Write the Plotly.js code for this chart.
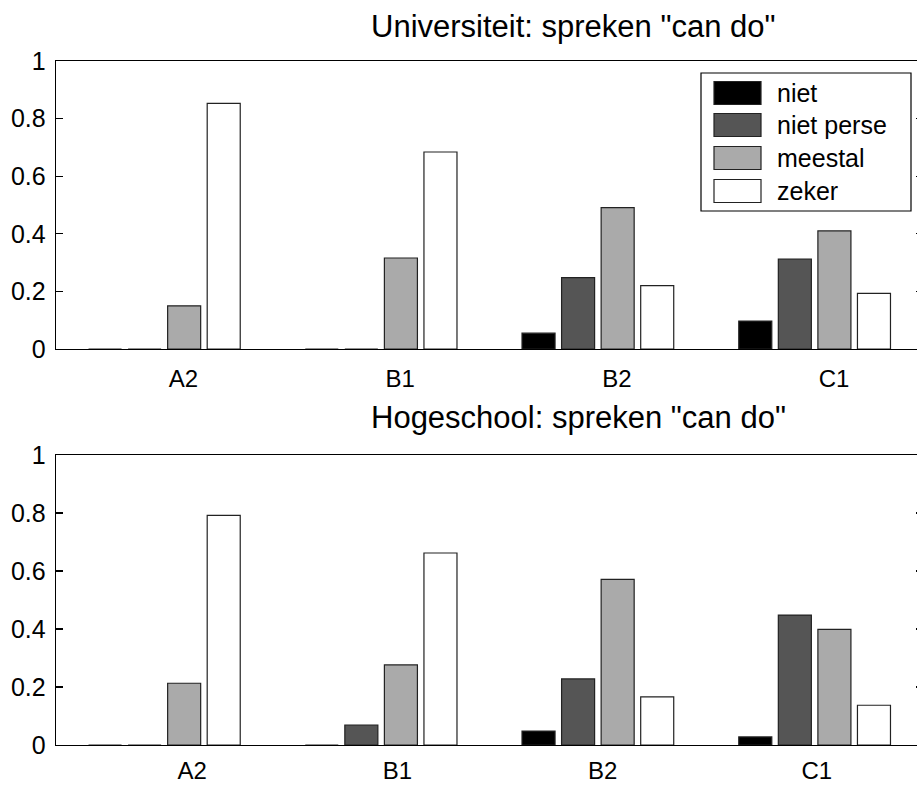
<!DOCTYPE html>
<html><head><meta charset="utf-8">
<script src="https://cdn.plot.ly/plotly-3.0.1.min.js"></script>
<style>html,body{margin:0;padding:0;overflow:hidden;background:#fff}#chart{width:930px;height:785px}</style>
</head><body><div id="chart"></div>
<script>
const categories = ["A2", "B1", "B2", "C1"];
const seriesNames = ["niet", "niet perse", "meestal", "zeker"];
const uniNiet = [0, 0, 0.055, 0.097];
const uniNietPerse = [0, 0, 0.248, 0.312];
const uniMeestal = [0.15, 0.316, 0.491, 0.41];
const uniZeker = [0.853, 0.684, 0.22, 0.193];
const hsNiet = [0, 0, 0.048, 0.028];
const hsNietPerse = [0, 0.069, 0.228, 0.448];
const hsMeestal = [0.213, 0.276, 0.571, 0.399];
const hsZeker = [0.792, 0.662, 0.166, 0.137];
const yTickVals = [0, 0.2, 0.4, 0.6, 0.8, 1];
const yTickText = ["0", "0.2", "0.4", "0.6", "0.8", "1"];
const titleUni = 'Universiteit: spreken "can do"';
const titleHs = 'Hogeschool: spreken "can do"';

// styling / layout
const W = 930, H = 785;
const colors = ["#000000", "#555555", "#aaaaaa", "#ffffff"];
const FONT = "Liberation Sans, Arial, Helvetica, sans-serif";
const px = v => v / W;
const py = v => 1 - v / H;
const xIdx = categories.map((c, i) => i + 1);
// tick label positions (slightly offset to the right, as in the original)
const uniLabelPos = [1.088, 2.088, 3.088, 4.09];
const hsLabelPos = [1.128, 2.075, 3.022, 4.01];

const uniSeries = [uniNiet, uniNietPerse, uniMeestal, uniZeker];
const hsSeries = [hsNiet, hsNietPerse, hsMeestal, hsZeker];

const traces = [];
uniSeries.forEach((vals, i) => traces.push({
  type: "bar", x: xIdx, y: vals, name: seriesNames[i], xaxis: "x", yaxis: "y",
  marker: {color: colors[i], line: {color: "#222", width: 1.2}}, showlegend: false, hoverinfo: "y"
}));
hsSeries.forEach((vals, i) => traces.push({
  type: "bar", x: xIdx, y: vals, name: seriesNames[i], xaxis: "x2", yaxis: "y2",
  marker: {color: colors[i], line: {color: "#222", width: 1.2}}, showlegend: false, hoverinfo: "y"
}));

const xDom = [px(56), px(923)];
function xAx(anchor, labelPos, standoff) {
  return {
    domain: xDom, anchor: anchor, range: [0.5, 4.5], tickmode: "array",
    tickvals: labelPos, ticktext: categories, ticks: "", showline: true, mirror: true,
    linecolor: "#000", linewidth: 1.3, showgrid: false, zeroline: false,
    tickfont: {family: FONT, size: 24, color: "#000"}, ticklabelstandoff: standoff, automargin: false
  };
}
function yAx(anchor, dom) {
  return {
    domain: dom, anchor: anchor, range: [0, 1], tickmode: "array", tickvals: yTickVals, ticktext: yTickText,
    ticks: "inside", ticklen: 7, tickcolor: "#000", tickwidth: 1.2, showline: true, mirror: "ticks",
    linecolor: "#000", linewidth: 1.3, showgrid: false, zeroline: false,
    tickfont: {family: FONT, size: 25, color: "#000"}, ticklabelstandoff: 4, automargin: false
  };
}

const shapes = [];
const annotations = [];
// subplot titles
annotations.push({xref: "paper", yref: "paper", x: px(369), y: py(27), xanchor: "left", yanchor: "middle",
  text: titleUni, showarrow: false, font: {family: FONT, size: 31, color: "#000"}});
annotations.push({xref: "paper", yref: "paper", x: px(369), y: py(417), xanchor: "left", yanchor: "middle",
  text: titleHs, showarrow: false, font: {family: FONT, size: 31, color: "#000"}});

// legend box (drawn from series names and colours)
shapes.push({type: "rect", xref: "paper", yref: "paper", x0: px(701), x1: px(911), y0: py(73), y1: py(211),
  line: {color: "#000", width: 1.2}, fillcolor: "#fff", layer: "above"});
const rowCenters = [93, 125, 158, 191];
seriesNames.forEach((n, i) => {
  const c = rowCenters[i];
  shapes.push({type: "rect", xref: "paper", yref: "paper", x0: px(714), x1: px(761), y0: py(c - 11.5), y1: py(c + 11.5),
    line: {color: "#222", width: 1.2}, fillcolor: colors[i], layer: "above"});
  annotations.push({xref: "paper", yref: "paper", x: px(775), y: py(c), xanchor: "left", yanchor: "middle",
    text: n, showarrow: false, font: {family: FONT, size: 25, color: "#000"}});
});

const layout = {
  width: W, height: H, margin: {l: 0, r: 0, t: 0, b: 0},
  paper_bgcolor: "#fff", plot_bgcolor: "#fff",
  barmode: "group", bargap: 0.27, bargroupgap: 0.165,
  xaxis: xAx("y", uniLabelPos, 8), yaxis: yAx("x", [py(349), py(61)]),
  xaxis2: xAx("y2", hsLabelPos, 4), yaxis2: yAx("x2", [py(745), py(455)]),
  shapes: shapes, annotations: annotations, showlegend: false
};
Plotly.newPlot("chart", traces, layout, {staticPlot: true, displayModeBar: false});
</script>
</body></html>
